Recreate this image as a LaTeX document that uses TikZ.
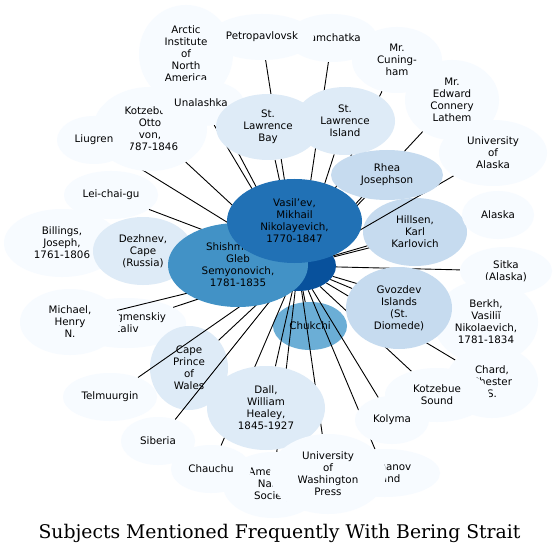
\documentclass[tikz,border=0pt]{standalone}
\usepackage{fontspec}
\setmainfont{DejaVu Sans}
\newfontfamily\titlefont{DejaVu Serif}
\usetikzlibrary{shapes.geometric}
\definecolor{cb1}{HTML}{F7FBFF}
\definecolor{cb2}{HTML}{DEEBF7}
\definecolor{cb3}{HTML}{C6DBEF}
\definecolor{cb5}{HTML}{6BAED6}
\definecolor{cb6}{HTML}{4292C6}
\definecolor{cb7}{HTML}{2171B5}
\definecolor{cb8}{HTML}{08519C}
\pgfdeclarelayer{bg}
\pgfdeclarelayer{edges}
\pgfsetlayers{bg,edges,main}

\begin{document}
\begin{tikzpicture}[x=1pt, y=-1pt,
    subj/.style={ellipse, inner sep=0pt, align=center, font=\fontsize{10.3}{12}\selectfont},
    lvla/.style={subj, fill=cb1},
    lvlb/.style={subj, fill=cb2},
    lvlc/.style={subj, fill=cb3},
    lvle/.style={subj, fill=cb5},
    lvlf/.style={subj, fill=cb6},
    lvlg/.style={subj, fill=cb7},
    lvlh/.style={subj, fill=cb8},
    link/.style={draw=black, line width=0.9pt},
    caption/.style={font=\titlefont\fontsize{18.8}{22}\selectfont}]

  \useasboundingbox (0,0) rectangle (559,556);

  % --- nodes under the links ---
  \begin{pgfonlayer}{bg}
    \fill[white] (0,0) rectangle (559,556);
    \node[lvla, minimum width=120pt, minimum height=50pt] (mech) at (126,323) {Mechigmenskiy\\Zaliv};
    \node[lvlb, minimum width=78pt, minimum height=84pt] (cape) at (189,368) {Cape\\Prince\\of\\Wales};
    \node[lvle, minimum width=74pt, minimum height=48pt] (chukchi) at (310,326) {Chukchi};
  \end{pgfonlayer}

  % --- centre ---
  \node[lvlh, minimum width=76pt, minimum height=50pt] (bs) at (298,266) {};

  % --- top ---
  \node[lvla, minimum width=90pt, minimum height=48pt] (kamch) at (332,38) {Kamchatka};
  \node[lvla, minimum width=94pt, minimum height=98pt] (arctic) at (186,54) {Arctic\\Institute\\of\\North\\America};
  \node[lvla, minimum width=104pt, minimum height=46pt] (petro) at (262,37) {Petropavlovsk};
  \node[lvla, minimum width=114pt, minimum height=84pt] (kotzo) at (150,129) {Kotzebue,\\Otto\\von,\\1787-1846};
  \node[lvla, minimum width=74pt, minimum height=48pt] (liugren) at (94,140) {Liugren};
  \node[lvla, minimum width=86pt, minimum height=46pt] (unal) at (201,103) {Unalashka};
  \node[lvla, minimum width=90pt, minimum height=66pt] (cuning) at (397,60) {Mr.\\Cuning-\\ham};
  \node[lvla, minimum width=94pt, minimum height=80pt] (lathem) at (452,100) {Mr.\\Edward\\Connery\\Lathem};
  \node[lvla, minimum width=108pt, minimum height=66pt] (ualaska) at (493,153) {University\\of\\Alaska};
  \node[lvlb, minimum width=104pt, minimum height=66pt] (slbay) at (268,127) {St.\\Lawrence\\Bay};
  \node[lvlb, minimum width=100pt, minimum height=68pt] (slisl) at (345,121) {St.\\Lawrence\\Island};

  % --- right ---
  \node[lvlc, minimum width=112pt, minimum height=50pt] (rhea) at (387,175) {Rhea\\Josephson};
  \node[lvla, minimum width=72pt, minimum height=48pt] (alaska) at (498,215) {Alaska};
  \node[lvla, minimum width=92pt, minimum height=48pt] (sitka) at (506,271) {Sitka\\(Alaska)};
  \node[lvla, minimum width=92pt, minimum height=72pt] (chard) at (492,382) {Chard,\\Chester\\S.};
  \node[lvla, minimum width=104pt, minimum height=84pt] (berkh) at (486,322) {Berkh,\\Vasiliĭ\\Nikolaevich,\\1781-1834};
  \node[lvlc, minimum width=106pt, minimum height=82pt] (gvozdev) at (399,308) {Gvozdev\\Islands\\(St.\\Diomede)};
  \node[lvla, minimum width=104pt, minimum height=54pt] (kotzs) at (437,395) {Kotzebue\\Sound};
  \node[lvla, minimum width=74pt, minimum height=48pt] (kolyma) at (392,420) {Kolyma};

  % --- bottom ---
  \node[lvla, minimum width=110pt, minimum height=48pt] (ratmanov) at (385,473) {Ratmanov\\Island};
  \node[lvlb, minimum width=118pt, minimum height=84pt] (dall) at (266,408) {Dall,\\William\\Healey,\\1845-1927};
  \node[lvla, minimum width=100pt, minimum height=66pt] (ams) at (273,485) {American\\Name\\Society};
  \node[lvla, minimum width=80pt, minimum height=48pt] (chauchu) at (211,469) {Chauchu};
  \node[lvla, minimum width=116pt, minimum height=80pt] (uwp) at (328,474) {University\\of\\Washington\\Press};
  \node[lvla, minimum width=74pt, minimum height=48pt] (siberia) at (158,441) {Siberia};
  \node[lvla, minimum width=94pt, minimum height=48pt] (telm) at (110,397) {Telmuurgin};

  % --- left ---
  \node[lvla, minimum width=100pt, minimum height=66pt] (michael) at (70,322) {Michael,\\Henry\\N.};
  \node[lvla, minimum width=116pt, minimum height=68pt] (billings) at (62,243) {Billings,\\Joseph,\\1761-1806};
  \node[lvlb, minimum width=100pt, minimum height=68pt] (dezhnev) at (143,251) {Dezhnev,\\Cape\\(Russia)};
  \node[lvla, minimum width=94pt, minimum height=48pt] (leichai) at (111,195) {Lei-chai-gu};
  \node[lvlf, minimum width=140pt, minimum height=84pt] (shish) at (238,265) {Shishmarev,\\Gleb\\Semyonovich,\\1781-1835};
  \node[lvlg, minimum width=135pt, minimum height=84pt] (vasil) at (294.5,221) {Vasil'ev,\\Mikhail\\Nikolayevich,\\1770-1847};

  % Hillsen hides the Alaska link, the University of Alaska link runs over it
  \begin{pgfonlayer}{bg}
    \draw[link] (bs) -- (alaska);
    \node[lvlc, minimum width=104pt, minimum height=68pt] (hillsen) at (415,232) {Hillsen,\\Karl\\Karlovich};
  \end{pgfonlayer}

  % --- links ---
  \begin{pgfonlayer}{edges}
    \foreach \t in {kamch, petro, arctic, kotzo, liugren, unal, cuning, lathem,
        ualaska, slbay, slisl, rhea, hillsen, sitka, chard, berkh, gvozdev, kotzs,
        kolyma, ratmanov, ams, chauchu, uwp, dall, siberia, telm, michael,
        billings, dezhnev, leichai, mech, cape, chukchi}
      \draw[link] (bs) -- (\t);
  \end{pgfonlayer}

  \node[caption] (ttl) at (279.5,533) {Subjects Mentioned Frequently With Bering Strait};
\end{tikzpicture}
\end{document}
